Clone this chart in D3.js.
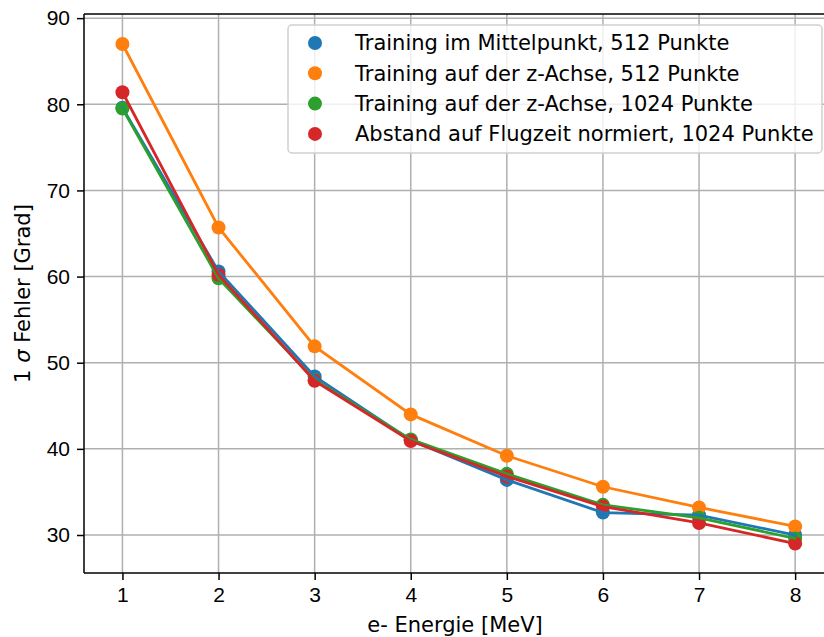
<!DOCTYPE html>
<html>
<head>
<meta charset="utf-8">
<script src="https://cdn.jsdelivr.net/npm/d3@7"></script>
<style>
  body { margin: 0; background: #fff; }
  svg { font-family: "DejaVu Sans", sans-serif; }
</style>
</head>
<body>
<script>
const w = 824, h = 637;
const fontSize = "21px";

// data
const energies = [1, 2, 3, 4, 5, 6, 7, 8];
const mittelpunkt512 = [79.6, 60.6, 48.4, 41.0, 36.4, 32.6, 32.3, 30.0];
const zAchse512 = [87.0, 65.7, 51.9, 44.0, 39.2, 35.6, 33.2, 31.0];
const zAchse1024 = [79.5, 59.8, 48.0, 41.1, 37.1, 33.5, 32.0, 29.6];
const flugzeit1024 = [81.4, 60.2, 47.9, 40.9, 36.8, 33.3, 31.4, 29.0];
const seriesNames = [
  "Training im Mittelpunkt, 512 Punkte",
  "Training auf der z-Achse, 512 Punkte",
  "Training auf der z-Achse, 1024 Punkte",
  "Abstand auf Flugzeit normiert, 1024 Punkte"
];
const colors = ["#1f77b4", "#ff7f0e", "#2ca02c", "#d62728"];
const yTicks = [30, 40, 50, 60, 70, 80, 90];

const series = [mittelpunkt512, zAchse512, zAchse1024, flugzeit1024].map((vals, i) => ({
  name: seriesNames[i],
  color: colors[i],
  points: vals.map((v, j) => [energies[j], v])
}));

const plotLeft = 84, plotTop = 14, plotBottom = 573;

const xScale = d3.scaleLinear().domain([0.6, 8.4]).range([plotLeft, plotLeft + 7.8 * 96.1]);
const yScale = d3.scaleLinear().domain([25.59, 90.48]).range([plotBottom, plotTop]);

const svg = d3.select("body").append("svg")
  .attr("width", w).attr("height", h);

// grid
svg.append("g").selectAll("line")
  .data(energies).enter().append("line")
  .attr("x1", d => xScale(d)).attr("x2", d => xScale(d))
  .attr("y1", plotTop).attr("y2", plotBottom)
  .attr("stroke", "#b0b0b0").attr("stroke-width", 1.5);
svg.append("g").selectAll("line")
  .data(yTicks).enter().append("line")
  .attr("x1", plotLeft).attr("x2", w)
  .attr("y1", d => yScale(d)).attr("y2", d => yScale(d))
  .attr("stroke", "#b0b0b0").attr("stroke-width", 1.5);

// axes
const xAxis = d3.axisBottom(xScale).tickValues(energies).tickSize(7).tickPadding(7).tickFormat(d3.format("d"));
const yAxis = d3.axisLeft(yScale).tickValues(yTicks).tickSize(7).tickPadding(7).tickFormat(d3.format("d"));

const gx = svg.append("g").attr("transform", "translate(0," + plotBottom + ")").call(xAxis);
const gy = svg.append("g").attr("transform", "translate(" + plotLeft + ",0)").call(yAxis);
[gx, gy].forEach(g => {
  g.select(".domain").remove();
  g.selectAll(".tick line").attr("stroke", "#000").attr("stroke-width", 1.5);
  g.selectAll(".tick text").attr("fill", "#000").style("font-size", fontSize);
});

// spines
svg.append("line").attr("x1", plotLeft).attr("x2", plotLeft).attr("y1", plotTop).attr("y2", plotBottom)
  .attr("stroke", "#000").attr("stroke-width", 1.5);
svg.append("line").attr("x1", plotLeft).attr("x2", w).attr("y1", plotBottom).attr("y2", plotBottom)
  .attr("stroke", "#000").attr("stroke-width", 1.5);
svg.append("line").attr("x1", plotLeft).attr("x2", w).attr("y1", plotTop).attr("y2", plotTop)
  .attr("stroke", "#000").attr("stroke-width", 1.5);

// markers (drawn below lines)
series.forEach(s => {
  svg.append("g").selectAll("circle")
    .data(s.points).enter().append("circle")
    .attr("cx", d => xScale(d[0]))
    .attr("cy", d => yScale(d[1]))
    .attr("r", 7)
    .attr("fill", s.color);
});

const line = d3.line().x(d => xScale(d[0])).y(d => yScale(d[1]));
series.forEach(s => {
  svg.append("path")
    .datum(s.points)
    .attr("d", line)
    .attr("fill", "none")
    .attr("stroke", s.color)
    .attr("stroke-width", 2.8)
    .attr("stroke-linecap", "square");
});

// axis labels
svg.append("text")
  .attr("x", 455).attr("y", 632)
  .attr("text-anchor", "middle")
  .style("font-size", fontSize)
  .text("e- Energie [MeV]");

const yl = svg.append("text")
  .attr("transform", "translate(30," + ((plotTop + plotBottom) / 2) + ") rotate(-90)")
  .attr("text-anchor", "middle")
  .style("font-size", fontSize);
yl.append("tspan").text("1 ");
yl.append("tspan").style("font-style", "italic").text("σ");
yl.append("tspan").text(" Fehler [Grad]");

// legend
const legend = svg.append("g");
legend.append("rect")
  .attr("x", 288).attr("y", 25).attr("width", 534).attr("height", 128)
  .attr("rx", 4)
  .attr("fill", "#fff").attr("fill-opacity", 0.8)
  .attr("stroke", "#d0d0d0").attr("stroke-width", 1.5);
const items = legend.selectAll("g")
  .data(series).enter().append("g")
  .attr("transform", (d, i) => "translate(0," + (43 + i * 30.3) + ")");
items.append("circle")
  .attr("cx", 315).attr("cy", 0).attr("r", 7)
  .attr("fill", d => d.color);
items.append("text")
  .attr("x", 355).attr("y", 0).attr("dy", "0.35em")
  .style("font-size", fontSize)
  .text(d => d.name);
</script>
</body>
</html>
